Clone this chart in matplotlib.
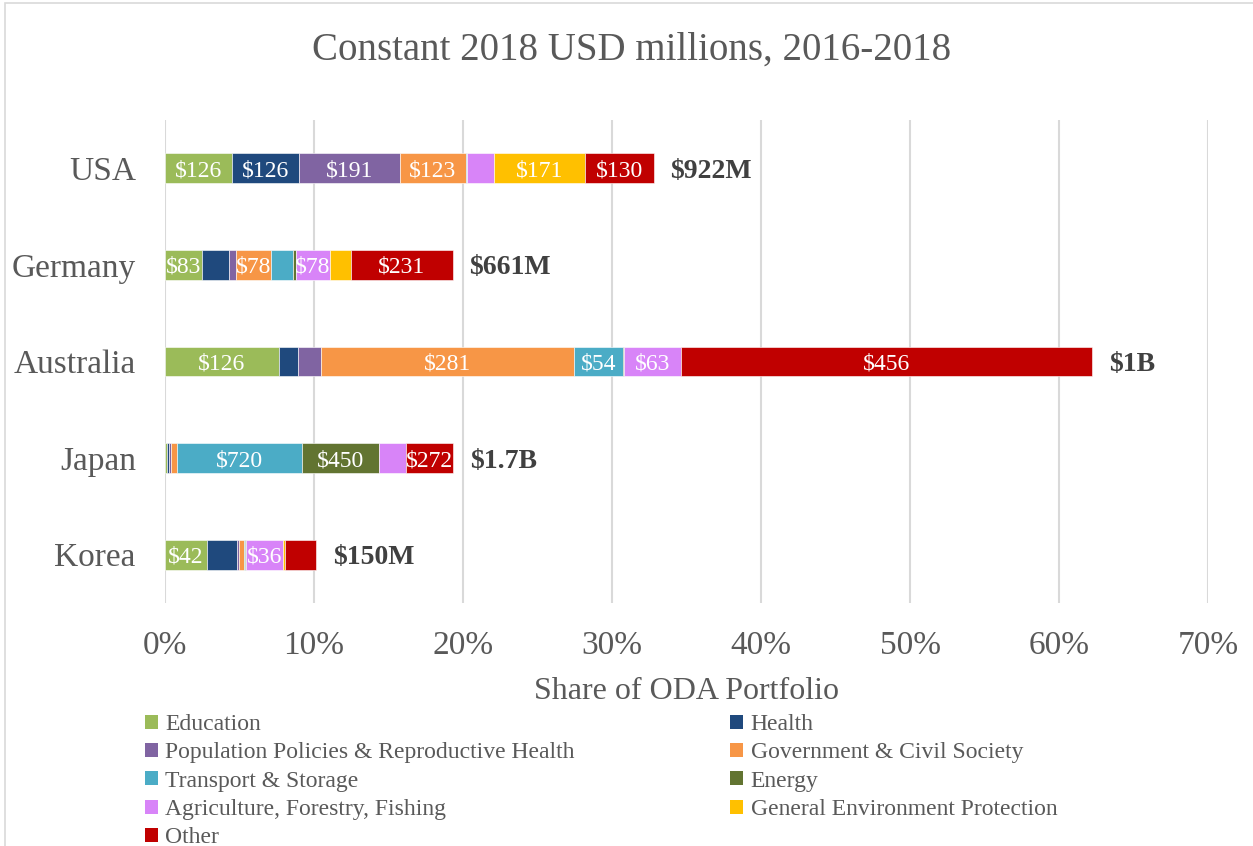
import matplotlib
matplotlib.use("Agg")
import matplotlib.pyplot as plt
from matplotlib.patches import Rectangle, Patch

plt.rcParams['font.family'] = ['Liberation Serif', 'DejaVu Serif']

# Share of ODA portfolio (%), per sector, for each donor
countries = ["USA", "Germany", "Australia", "Japan", "Korea"]
totals = ["$922M", "$661M", "$1B", "$1.7B", "$150M"]

sectors = ["Education", "Health", "Population Policies & Reproductive Health",
           "Government & Civil Society", "Transport & Storage", "Energy",
           "Agriculture, Forestry, Fishing", "General Environment Protection", "Other"]
colors = ["#9BBB59", "#1F497D", "#8064A2", "#F79646", "#4BACC6",
          "#627431", "#D884F8", "#FFC000", "#C00000"]

education = [4.49, 2.48, 7.62, 0.11, 2.84]
health = [4.51, 1.81, 1.29, 0.16, 1.97]
population = [6.75, 0.47, 1.54, 0.11, 0.16]
government = [4.43, 2.35, 16.99, 0.45, 0.36]
transport = [0.06, 1.47, 3.28, 8.34, 0.05]
energy = [0.05, 0.20, 0.07, 5.16, 0.04]
agriculture = [1.79, 2.28, 3.87, 1.83, 2.53]
environment = [6.08, 1.41, 0.0, 0.0, 0.09]
other = [4.64, 6.84, 27.57, 3.17, 2.10]

# USD millions shown inside segments (None = no label)
education_usd = [126, 83, 126, None, 42]
health_usd = [126, None, None, None, None]
population_usd = [191, None, None, None, None]
government_usd = [123, 78, 281, None, None]
transport_usd = [None, None, 54, 720, None]
energy_usd = [None, None, None, 450, None]
agriculture_usd = [None, 78, 63, None, 36]
environment_usd = [171, None, None, None, None]
other_usd = [130, 231, 456, 272, None]

shares = [education, health, population, government, transport,
          energy, agriculture, environment, other]
usd = [education_usd, health_usd, population_usd, government_usd, transport_usd,
       energy_usd, agriculture_usd, environment_usd, other_usd]

grey = "#595959"

fig = plt.figure(figsize=(12.53, 8.46), dpi=100)
ax = fig.add_axes([0.1317, 0.2872, 0.8324, 0.571])

ypos = list(range(len(countries)))[::-1]
left = [0.0] * len(countries)
handles = []
for name, col, vals, labs in zip(sectors, colors, shares, usd):
    bars = ax.barh(ypos, vals, left=left, height=0.31, color=col,
                   edgecolor="white", linewidth=0.4, zorder=3)
    for b, v, lab in zip(bars, vals, labs):
        if lab is not None:
            ax.text(b.get_x() + b.get_width() / 2, b.get_y() + b.get_height() / 2,
                    f"${lab}", ha="center", va="center_baseline", color="white",
                    fontsize=17, zorder=4)
    left = [l + v for l, v in zip(left, vals)]
    handles.append(Patch(facecolor=col, edgecolor="none", label=name))

for y, x, t in zip(ypos, left, totals):
    ax.annotate(t, (x, y), xytext=(12, 0), textcoords="offset points",
                ha="left", va="center_baseline", fontsize=20, fontweight="bold",
                color="#404040")

ax.set_xlim(0, 70)
ax.set_ylim(-0.5, 4.5)
ax.set_xticks(range(0, 71, 10))
ax.set_xticklabels([f"{t}%" for t in range(0, 71, 10)])
ax.set_yticks(ypos)
ax.set_yticklabels(countries)
ax.tick_params(axis="x", labelsize=24, colors=grey, length=0, pad=20)
ax.tick_params(axis="y", labelsize=24, colors=grey, length=0, pad=21)
ax.grid(axis="x", color="#D9D9D9", linewidth=1.5, zorder=0)
for s in ax.spines.values():
    s.set_visible(False)

ax.set_xlabel("Share of ODA Portfolio", fontsize=23, color=grey, labelpad=11)
fig.text(0.504, 0.941, "Constant 2018 USD millions, 2016-2018", ha="center",
         va="center", fontsize=28, color=grey)

# legend in two columns, row-major order
col1 = [handles[i] for i in (0, 2, 4, 6, 8)]
col2 = [handles[i] for i in (1, 3, 5, 7)]
leg_kw = dict(frameon=False, fontsize=17, labelcolor=grey, handlelength=0.55,
              handleheight=0.55, handletextpad=0.3, labelspacing=0.31,
              borderaxespad=0, borderpad=0, loc="upper left")
fig.legend(handles=col1, bbox_to_anchor=(0.116, 0.156), **leg_kw)
fig.legend(handles=col2, bbox_to_anchor=(0.583, 0.156), **leg_kw)

fig.patches.append(Rectangle((0.004, -0.01), 1.2, 1.006, transform=fig.transFigure,
                             fill=False, edgecolor="#D9D9D9", linewidth=1.2))

fig.savefig("out.png", dpi=100)
